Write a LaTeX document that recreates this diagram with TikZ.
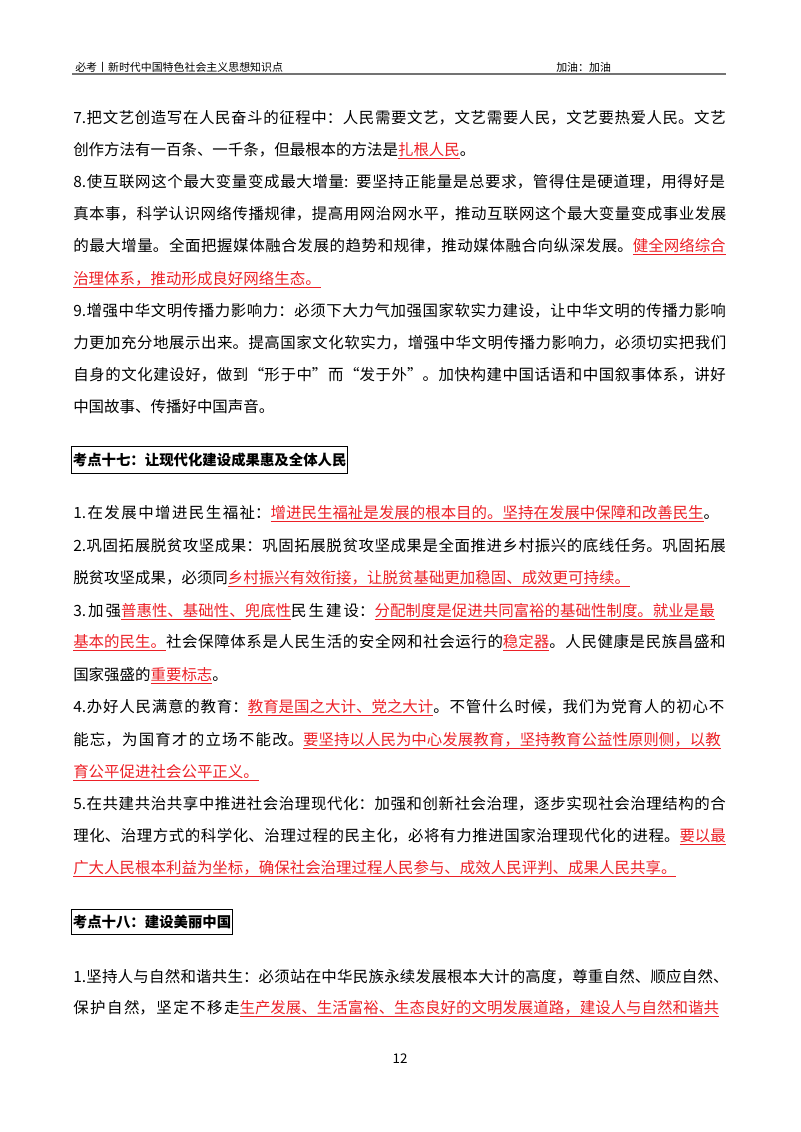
\documentclass[tikz,border=0pt]{standalone}
\usepackage{fontspec}
\setmainfont{Noto Sans CJK SC}
\XeTeXlinebreaklocale "zh"
\XeTeXlinebreakskip=0pt plus 3pt minus 1pt
\definecolor{hl}{RGB}{236,32,38}
\newcommand{\R}[1]{\textcolor{hl}{\underline{#1}}}
\tikzset{
  body/.style={anchor=base west, inner sep=0pt, text width=492.75pt, font=\fontsize{11.6pt}{14pt}\selectfont},
  jl/.style={body, execute at begin node={\parfillskip=0pt}},
  nl/.style={body},
  headbox/.style={draw, line width=0.8pt, anchor=west, inner xsep=1pt, inner ysep=4.5pt, font=\fontsize{10.8pt}{13pt}\selectfont\bfseries},
}
\begin{document}
\begin{tikzpicture}[x=0.75pt,y=-0.75pt]
\useasboundingbox (0,0) rectangle (800,1132);
% header
\node[anchor=base west, inner sep=0, font=\fontsize{8.2pt}{10pt}\selectfont] (h1) at (75,71) {必考丨新时代中国特色社会主义思想知识点};
\node[anchor=base west, inner sep=0, font=\fontsize{8.2pt}{10pt}\selectfont] (h2) at (556,71) {加油：加油};
\draw[line width=1.4pt, black!55] (72,74) -- (726,74);
% section 7-9
\node[jl] (a1) at (73,123) {7.把文艺创造写在人民奋斗的征程中：人民需要文艺，文艺需要人民，文艺要热爱人民。文艺};
\node[nl] (a2) at (73,155) {创作方法有一百条、一千条，但最根本的方法是\R{扎根人民}。};
\node[jl] (a3) at (73,187) {8.使互联网这个最大变量变成最大增量: 要坚持正能量是总要求，管得住是硬道理，用得好是};
\node[jl] (a4) at (73,219) {真本事，科学认识网络传播规律，提高用网治网水平，推动互联网这个最大变量变成事业发展};
\node[jl] (a5) at (73,251) {的最大增量。全面把握媒体融合发展的趋势和规律，推动媒体融合向纵深发展。\R{健全网络综合}};
\node[nl] (a6) at (73,284) {\R{治理体系，推动形成良好网络生态。}};
\node[jl] (a7) at (73,316) {9.增强中华文明传播力影响力：必须下大力气加强国家软实力建设，让中华文明的传播力影响};
\node[jl] (a8) at (73,348) {力更加充分地展示出来。提高国家文化软实力，增强中华文明传播力影响力，必须切实把我们};
\node[jl] (a9) at (73,380) {自身的文化建设好，做到“形于中”而“发于外”。加快构建中国话语和中国叙事体系，讲好};
\node[nl] (a10) at (73,412) {中国故事、传播好中国声音。};
% heading 17
\node[headbox] (k17) at (71,460) {考点十七：让现代化建设成果惠及全体人民};
\node[jl] (b1) at (73,518) {1.在发展中增进民生福祉：\R{增进民生福祉是发展的根本目的。坚持在发展中保障和改善民生}。};
\node[jl] (b2) at (73,551) {2.巩固拓展脱贫攻坚成果：巩固拓展脱贫攻坚成果是全面推进乡村振兴的底线任务。巩固拓展};
\node[nl] (b3) at (73,583) {脱贫攻坚成果，必须同\R{乡村振兴有效衔接，让脱贫基础更加稳固、成效更可持续。}};
\node[jl] (b4) at (73,616) {3.加强\R{普惠性、基础性、兜底性}民生建设：\R{分配制度是促进共同富裕的基础性制度。就业是最}};
\node[jl] (b5) at (73,647) {\R{基本的民生。}社会保障体系是人民生活的安全网和社会运行的\R{稳定器}。人民健康是民族昌盛和};
\node[nl] (b6) at (73,680) {国家强盛的\R{重要标志}。};
\node[jl] (b7) at (73,712) {4.办好人民满意的教育：\R{教育是国之大计、党之大计}。不管什么时候，我们为党育人的初心不};
\node[jl] (b8) at (73,745) {能忘，为国育才的立场不能改。\R{要坚持以人民为中心发展教育，坚持教育公益性原则侧，以教}};
\node[nl] (b9) at (73,777) {\R{育公平促进社会公平正义。}};
\node[jl] (b10) at (73,809) {5.在共建共治共享中推进社会治理现代化：加强和创新社会治理，逐步实现社会治理结构的合};
\node[jl] (b11) at (73,841) {理化、治理方式的科学化、治理过程的民主化，必将有力推进国家治理现代化的进程。\R{要以最}};
\node[nl] (b12) at (73,873) {\R{广大人民根本利益为坐标，确保社会治理过程人民参与、成效人民评判、成果人民共享。}};
% heading 18
\node[headbox] (k18) at (71,922) {考点十八：建设美丽中国};
\node[jl] (c1) at (73,982) {1.坚持人与自然和谐共生：必须站在中华民族永续发展根本大计的高度，尊重自然、顺应自然、};
\node[jl] (c2) at (73,1013) {保护自然，坚定不移走\R{生产发展、生活富裕、生态良好的文明发展道路，建设人与自然和谐共}};
% page number
\node[anchor=base, inner sep=0, font=\fontsize{10pt}{12pt}\selectfont] (pn) at (400,1063) {12};
\end{tikzpicture}
\end{document}
